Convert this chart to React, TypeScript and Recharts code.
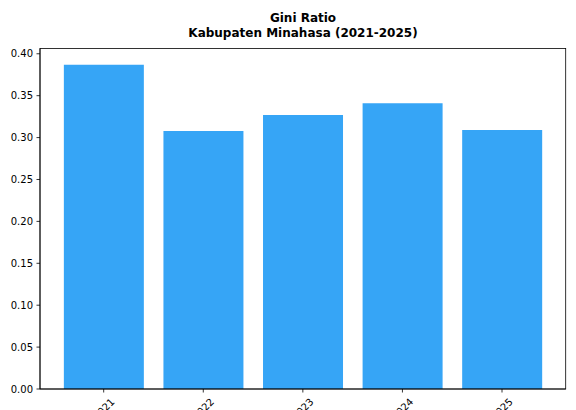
import React from "react";
import { BarChart, Bar, XAxis, YAxis } from "recharts";

const years = ["2021", "2022", "2023", "2024", "2025"];
const giniValues = [0.387, 0.308, 0.327, 0.341, 0.309];
const yTicks = [0, 0.05, 0.1, 0.15, 0.2, 0.25, 0.3, 0.35, 0.4];

const data = years.map((y, i) => ({ year: y, gini: giniValues[i] }));

const FONT = "DejaVu Sans";
const PLOT = { left: 40, top: 48.5, right: 565.7, bottom: 389 };

const XTick = (props: any) => {
  const { x, y, payload } = props;
  const cy = y + 13;
  return (
    <text
      x={x}
      y={cy}
      textAnchor="middle"
      dominantBaseline="central"
      fontFamily={FONT}
      fontSize={10}
      fill="#000"
      transform={`rotate(-45, ${x}, ${cy})`}
    >
      {payload.value}
    </text>
  );
};

const YTick = (props: any) => {
  const { x, y, payload } = props;
  return (
    <text
      x={x}
      y={y}
      textAnchor="end"
      dominantBaseline="central"
      fontFamily={FONT}
      fontSize={10}
      fill="#000"
    >
      {Number(payload.value).toFixed(2)}
    </text>
  );
};

export default function App() {
  return (
    <div style={{ position: "fixed", left: 0, top: 0, width: 576, height: 410, background: "#fff" }}>
      <svg width={576} height={50} style={{ position: "absolute", left: 0, top: 0 }}>
        <text x={303} y={22} textAnchor="middle" fontFamily={FONT} fontWeight="bold" fontSize={12} fill="#000">
          Gini Ratio
        </text>
        <text x={303} y={36.7} textAnchor="middle" fontFamily={FONT} fontWeight="bold" fontSize={12} fill="#000">
          Kabupaten Minahasa (2021-2025)
        </text>
      </svg>
      <div style={{ position: "absolute", left: 0, top: 0 }}>
        <BarChart
          width={576}
          height={410}
          data={data}
          margin={{ top: PLOT.top, right: 576 - PLOT.right, left: 0, bottom: 0 }}
          barCategoryGap="10%"
        >
          <XAxis
            dataKey="year"
            height={410 - PLOT.bottom}
            padding={{ left: 13.9, right: 13.9 }}
            tickSize={3.5}
            tickMargin={3.5}
            tick={<XTick />}
            axisLine={{ stroke: "#000", strokeWidth: 0.8 }}
            tickLine={{ stroke: "#000", strokeWidth: 0.8 }}
            interval={0}
          />
          <YAxis
            width={PLOT.left}
            domain={[0, 0.4063]}
            ticks={yTicks}
            tickSize={3.5}
            tickMargin={3.5}
            tick={<YTick />}
            axisLine={{ stroke: "#000", strokeWidth: 0.8 }}
            tickLine={{ stroke: "#000", strokeWidth: 0.8 }}
            allowDataOverflow
          />
          <Bar dataKey="gini" fill="#36a5f6" isAnimationActive={false} />
        </BarChart>
      </div>
      <svg
        width={576}
        height={410}
        style={{ position: "absolute", left: 0, top: 0, pointerEvents: "none" }}
      >
        <rect
          x={PLOT.left}
          y={PLOT.top}
          width={PLOT.right - PLOT.left}
          height={PLOT.bottom - PLOT.top}
          fill="none"
          stroke="#000"
          strokeWidth={0.8}
        />
      </svg>
    </div>
  );
}
